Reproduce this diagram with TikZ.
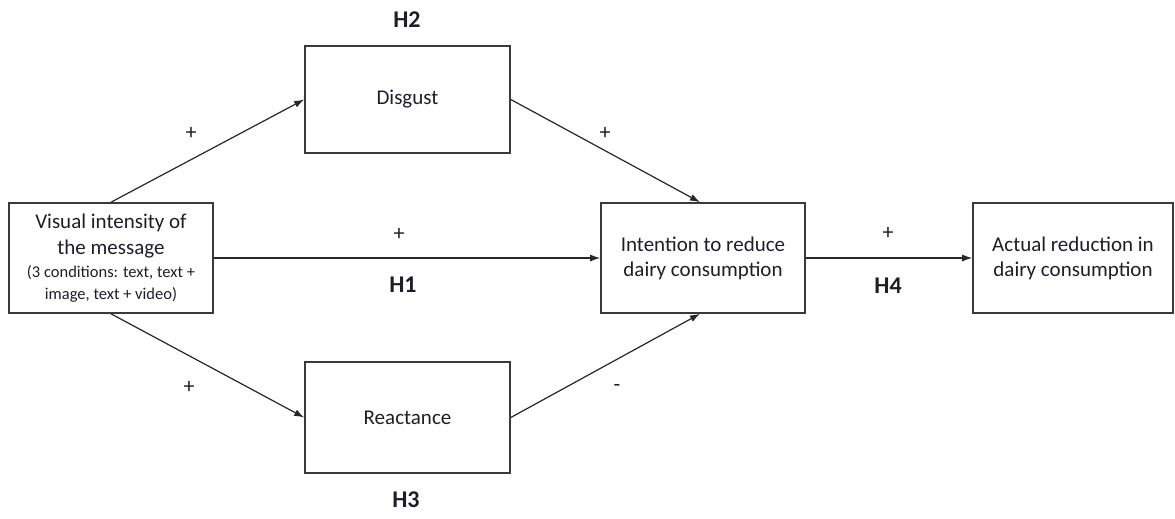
\documentclass[tikz,border=0pt]{standalone}
\usepackage{fontspec}
\setmainfont{Carlito}
\usetikzlibrary{arrows.meta}
\definecolor{txt}{HTML}{1E1E28}
\definecolor{edge}{HTML}{3A3A3A}
\begin{document}
\begin{tikzpicture}[x=1pt,y=-1pt,
  box/.style={draw=edge,line width=1.6pt,minimum width=204pt,minimum height=110pt,align=center,inner sep=0pt,text=txt,font=\fontsize{21}{25}\selectfont},
  conn/.style={line width=1.2pt,draw=black!85,-{Latex[length=10pt,width=7pt]}},
  sign/.style={text=txt,font=\fontsize{22}{25}\selectfont,inner sep=0pt},
  hyp/.style={text=txt,font=\fontsize{24}{26}\selectfont\bfseries,inner sep=0pt}]
\useasboundingbox (0,0) rectangle (1175,519);
\node[box] (L) at (111,258) {Visual intensity of\\[1pt] the message\\[-2pt]
  {\fontsize{16.5}{21}\selectfont (3 conditions: text, text +}\\[-3pt]
  {\fontsize{16.5}{21}\selectfont image, text + video)}};
\node[box,minimum width=205pt,minimum height=107pt] (D) at (407.5,99.5) {Disgust};
\node[box,minimum width=205pt,minimum height=111pt] (R) at (407.5,417.5) {Reactance};
\node[box] (I) at (703,258) {Intention to reduce\\dairy consumption};
\node[box,minimum width=200pt] (A) at (1073,258) {Actual reduction in\\dairy consumption};
\draw[conn] (L.north) -- (D.west);
\draw[conn] (D.east) -- ([xshift=-3pt]I.north);
\draw[conn] (L.east) -- (I.west);
\draw[conn] (L.south) -- (R.west);
\draw[conn] (R.east) -- ([xshift=-3pt]I.south);
\draw[conn] (I.east) -- (A.west);
\node[sign] (s1) at (191,133) {+};
\node[sign] (s2) at (605,133) {+};
\node[sign] (s3) at (399,234) {+};
\node[sign] (s4) at (189,387) {+};
\node[sign] (s5) at (617,388) {-};
\node[sign] (s6) at (888,233) {+};
\node[hyp] (h2) at (407,20) {H2};
\node[hyp] (h1) at (403,285) {H1};
\node[hyp] (h3) at (406,500) {H3};
\node[hyp] (h4) at (888,286) {H4};
\end{tikzpicture}
\end{document}
